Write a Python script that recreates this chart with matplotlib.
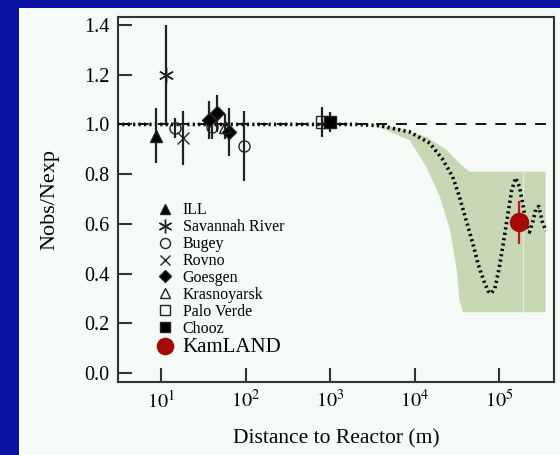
import numpy as np
import matplotlib.pyplot as plt
from matplotlib.patches import Rectangle

plt.rcParams['font.family'] = ['Liberation Serif', 'DejaVu Serif']
plt.rcParams['mathtext.fontset'] = 'stix'

# reactor experiments: distance (m), Nobs/Nexp, error
ill_L, ill_R, ill_E = [8.7], [0.955], [0.11]
sr_L, sr_R, sr_E = [11.5], [1.20], [0.20]
bugey_L, bugey_R, bugey_E = [14.6, 40, 95], [0.985, 0.99, 0.913], [0.04, 0.05, 0.14]
rovno_L, rovno_R, rovno_E = [18.2], [0.945], [0.11]
goesgen_L, goesgen_R, goesgen_E = [37, 46, 64], [1.018, 1.045, 0.97], [0.075, 0.075, 0.095]
kras_L, kras_R, kras_E = [57], [0.99], [0.05]
pv_L, pv_R, pv_E = [800], [1.01], [0.06]
chooz_L, chooz_R, chooz_E = [1000], [1.01], [0.04]
kam_L, kam_R, kam_E = [170000], [0.607], [0.087]

# oscillation curve
osc_L = [3, 2000, 3890, 8710, 15100, 21400, 28200, 33900, 40700, 49000, 56200, 66100,
         74100, 80400, 89100, 100000, 112000, 126000, 141000, 157000, 174000, 191000,
         209000, 229000, 251000, 275000, 295000, 324000, 359000]
osc_R = [1.0, 1.0, 0.995, 0.97, 0.925, 0.86, 0.79, 0.71, 0.615, 0.52, 0.44, 0.37,
         0.33, 0.32, 0.34, 0.42, 0.52, 0.63, 0.735, 0.785, 0.75, 0.68,
         0.60, 0.567, 0.61, 0.664, 0.67, 0.61, 0.571]

# allowed band
band_up_L = [3160, 5500, 13800, 24000, 33900, 44700, 355000]
band_up_R = [1.0, 0.99, 0.95, 0.897, 0.845, 0.81, 0.81]
band_lo_L = [3160, 8700, 13800, 20000, 26300, 31600, 33900, 37200, 355000]
band_lo_R = [1.0, 0.937, 0.829, 0.708, 0.575, 0.414, 0.294, 0.245, 0.245]

fig = plt.figure(figsize=(5.6, 4.55), dpi=100)
fig.patch.set_facecolor('#0c12a2')
fig.patches.append(Rectangle((0.034, 0), 0.966, 0.982, transform=fig.transFigure,
                             facecolor='#f7fbf7', edgecolor='none', zorder=-5))

ax = fig.add_axes([0.2107, 0.1604, 0.7786, 0.8022])
ax.set_facecolor('#f7fbf7')
ax.set_xscale('log')
ax.set_xlim(10**0.49, 10**5.65)
ax.set_ylim(-0.036, 1.432)

bx = band_up_L + band_lo_L[::-1]
by = band_up_R + band_lo_R[::-1]
ax.fill(bx, by, color='#c8d8b5', lw=0, zorder=1)
ax.axvline(191000, ymin=(0.245+0.036)/1.468, ymax=(0.81+0.036)/1.468, color='#e4ecdc', lw=0.8, zorder=1)

ax.axhline(1.0, color='black', lw=1.3, ls=(0, (6, 5)), zorder=2)
ax.plot(osc_L, osc_R, color='black', lw=2.6, ls=(0, (0.6, 0.9)), zorder=3)

ms = 8
sets = [
    (ill_L, ill_R, ill_E, '^', 'black', 'ILL', ms),
    (sr_L, sr_R, sr_E, (6, 2, 0), 'black', 'Savannah River', 11),
    (bugey_L, bugey_R, bugey_E, 'o', 'none', 'Bugey', ms),
    (rovno_L, rovno_R, rovno_E, 'x', 'black', 'Rovno', ms),
    (goesgen_L, goesgen_R, goesgen_E, 'D', 'black', 'Goesgen', 7),
    (kras_L, kras_R, kras_E, '^', 'none', 'Krasnoyarsk', ms),
    (pv_L, pv_R, pv_E, 's', 'none', 'Palo Verde', ms),
    (chooz_L, chooz_R, chooz_E, 's', 'black', 'Chooz', ms),
]
for L, R, E, m, fc, lab, sz in sets:
    ax.errorbar(L, R, yerr=E, fmt='none', ecolor='#222222', elinewidth=1.6, capsize=0, zorder=4)
    ax.plot(L, R, ls='none', marker=m, ms=sz, mfc=fc, mec='#222222', mew=1.0, label=lab, zorder=5)

ax.errorbar(kam_L, kam_R, yerr=kam_E, fmt='none', ecolor='#cc1111', elinewidth=1.6, capsize=0, zorder=6)
ax.plot(kam_L, kam_R, ls='none', marker='o', ms=13, color='#a50a0a', label='KamLAND', zorder=7)

leg = ax.legend(loc='upper left', bbox_to_anchor=(0.075, 0.51), frameon=False,
                fontsize=11.5, handletextpad=0.6, labelspacing=0.06,
                handlelength=1.0, borderaxespad=0, markerscale=0.9)
leg.get_texts()[-1].set_fontsize(15)

ax.set_xticks([1e1, 1e2, 1e3, 1e4, 1e5])
ax.set_xticklabels(['$10^1$', '$10^2$', '$10^3$', '$10^4$', '$10^5$'])
ax.minorticks_off()
ax.set_yticks([0.0, 0.2, 0.4, 0.6, 0.8, 1.0, 1.2, 1.4])
ax.set_yticklabels(['0.0', '0.2', '0.4', '0.6', '0.8', '1.0', '1.2', '1.4'])
ax.tick_params(direction='in', length=10, width=1.5, labelsize=14.5, color='#333333', pad=6)
for s in ax.spines.values():
    s.set_color('#333333')
    s.set_linewidth(1.5)

ax.set_xlabel('Distance to Reactor (m)', fontsize=15.5, labelpad=12)
ax.set_ylabel('Nobs/Nexp', fontsize=16, labelpad=18)

fig.savefig('out.png', dpi=100, facecolor=fig.get_facecolor())
